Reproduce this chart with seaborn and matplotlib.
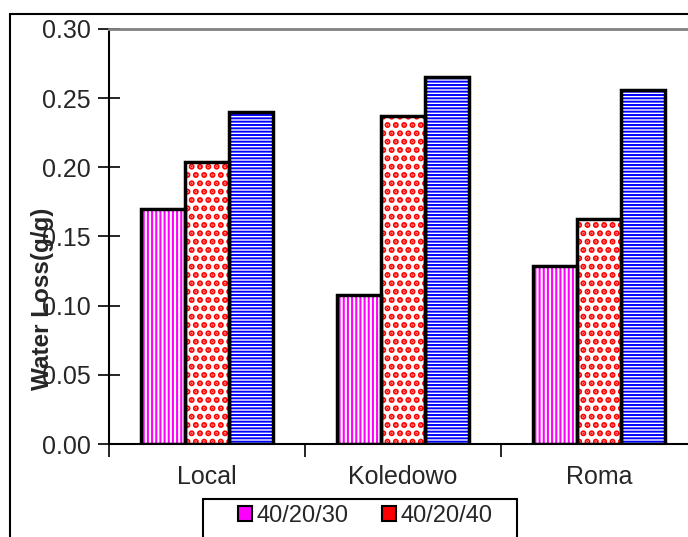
import pandas as pd
import matplotlib.pyplot as plt
import seaborn as sns
from matplotlib.patches import Rectangle, Patch

# data
varieties = ['Local', 'Koledowo', 'Roma']
series = ['40/20/30', '40/20/40', '40/20/50']
loss_30 = [0.170, 0.108, 0.129]
loss_40 = [0.204, 0.237, 0.163]
loss_50 = [0.240, 0.265, 0.256]

df = pd.DataFrame({
    'variety': varieties * 3,
    'mix': [s for s in series for _ in varieties],
    'loss': loss_30 + loss_40 + loss_50,
})

sns.set_style('white')
plt.rcParams['font.family'] = ['Liberation Sans', 'DejaVu Sans']
plt.rcParams['hatch.linewidth'] = 1.4

colors = ['#ff00ff', '#ff0000', '#0000ff']
hatches = ['||||', '..', '-----']
hatch_lw = [1.5, 3.0, 1.4]

fig = plt.figure(figsize=(6.88, 5.37), dpi=100)
ax = fig.add_axes([109 / 688, 93 / 537, 588 / 688, 415 / 537])

sns.barplot(data=df, x='variety', y='loss', hue='mix', order=varieties,
            hue_order=series, palette=colors, saturation=1, width=0.67,
            legend=False, ax=ax)

# hatched fill in series colour, then a thick black outline on top
for i, bar in enumerate(list(ax.patches)):
    k = i // len(varieties)
    bar.set_facecolor('white')
    bar.set_edgecolor(colors[k])
    bar.set_hatch(hatches[k])
    if hasattr(bar, 'set_hatch_linewidth'):
        bar.set_hatch_linewidth(hatch_lw[k])
    bar.set_linewidth(0)
    ax.add_patch(Rectangle(bar.get_xy(), bar.get_width(), bar.get_height(),
                           fill=False, edgecolor='black', lw=2.5, zorder=3))

ax.set_xlim(-0.5, 2.5)
ax.set_ylim(0, 0.30)
ax.set_yticks([0, 0.05, 0.10, 0.15, 0.20, 0.25, 0.30])
ax.set_yticklabels([f'{v:.2f}' for v in ax.get_yticks()])
ax.set_xticks([-0.5, 0.5, 1.5, 2.5], minor=True)
ax.tick_params(axis='y', direction='inout', length=16, width=1.2,
               color='black', labelsize=18, pad=5, left=True)
ax.tick_params(axis='x', which='major', length=0, labelsize=18, pad=15)
ax.tick_params(axis='x', which='minor', direction='out', length=9,
               width=1.2, color='black', bottom=True)

ax.set_xlabel('')
ax.set_ylabel('Water Loss(g/g)', fontsize=17.5, fontweight='bold')
ax.yaxis.set_label_coords(-0.094, 0.35)

for side in ['left', 'bottom']:
    ax.spines[side].set_color('black')
    ax.spines[side].set_linewidth(1.5)
ax.spines['top'].set_color('#808080')
ax.spines['top'].set_linewidth(2)
ax.spines['right'].set_visible(False)

# outer chart frame (cut off at right and bottom)
fig.add_artist(Rectangle((10 / 688, -0.2), 1.2, 0.2 + 1 - 14 / 537,
                         transform=fig.transFigure, fill=False,
                         edgecolor='black', lw=1.5, clip_on=False))

# legend box, also cut off at the bottom
fig.add_artist(Rectangle((203 / 688, -0.2), 314 / 688, 0.2 + 1 - 499 / 537,
                         transform=fig.transFigure, fill=False,
                         edgecolor='black', lw=1.5, clip_on=False))

# only the first two legend entries are visible in the original
handles = [Patch(facecolor=c, edgecolor='black', lw=1.5) for c in colors[:2]]
leg = fig.legend(handles, series[:2],
                 ncol=2, loc='upper center',
                 bbox_to_anchor=(365 / 688, 1 - 500 / 537),
                 borderaxespad=0, fontsize=17, frameon=False,
                 handlelength=0.6, handleheight=0.6, handletextpad=0.2,
                 columnspacing=1.4, borderpad=0.2)

fig.savefig('out.png', dpi=100)
